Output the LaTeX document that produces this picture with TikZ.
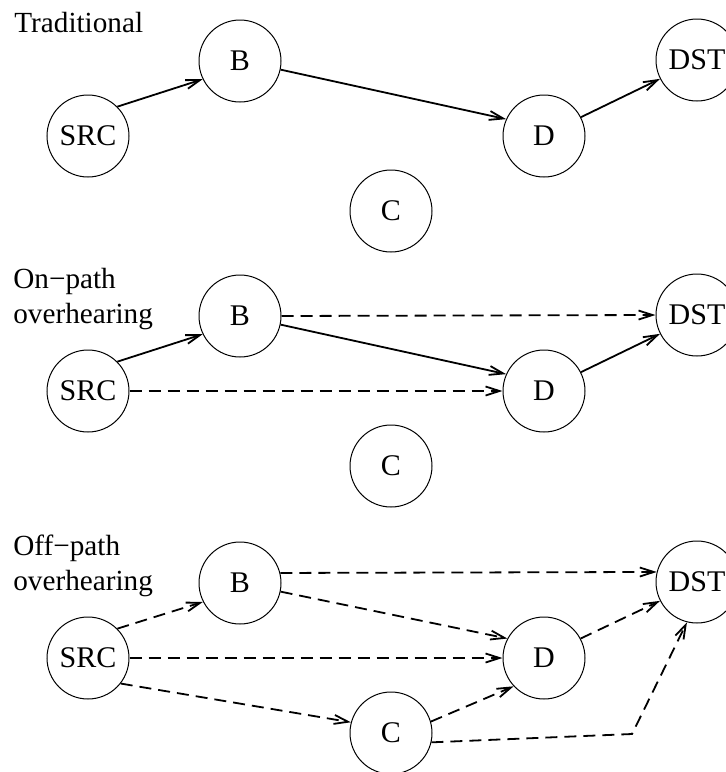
\documentclass[tikz,border=0pt]{standalone}
\usepackage{fontspec}
\setmainfont{Liberation Serif}
\usetikzlibrary{arrows.meta}

\begin{document}
\begin{tikzpicture}[x=0.5pt, y=-0.5pt,
  host/.style={draw, circle, line width=0.5pt, minimum size=41pt, inner sep=0pt, font=\fontsize{15}{18}\selectfont},
  title/.style={inner sep=0pt, align=left, font=\fontsize{14.6}{17.5}\selectfont},
  link/.style={line width=0.9pt, -{Straight Barb[length=7pt,width=4.5pt]}},
  hear/.style={link, dash pattern=on 6pt off 3.5pt}]
\useasboundingbox (0,0) rectangle (725,772);
\node[title, anchor=base west] (lab1) at (14,32) {Traditional};
\node[title, anchor=north west] (lab2) at (13,268) {On\textminus path\\overhearing};
\node[title, anchor=north west] (lab3) at (13,535) {Off\textminus path\\overhearing};
\foreach \p/\dy in {1/0, 2/255, 3/522} {
	\node[host] (src\p) at (88,136+\dy) {SRC};
	\node[host] (b\p) at (240,61+\dy) {B};
	\node[host] (c\p) at (391,211+\dy) {C};
	\node[host] (d\p) at (544,136+\dy) {D};
	\node[host] (dst\p) at (697,60+\dy) {DST};
}
\foreach \p in {1,2} {
	\draw[link] (src\p.45) -- (b\p.206);
	\draw[link] (b\p.348) -- (d\p.156);
	\draw[link] (d\p.27) -- (dst\p.207);
}
\draw[hear] (b2.east) -- (dst2.west);
\draw[hear] (src2.east) -- (d2.west);
\coordinate (bend) at (632,734);
\draw[hear] (src3.45) -- (b3.207);
\draw[hear] (b3.14) -- (dst3.166);
\draw[hear] (b3.348) -- (d3.152);
\draw[hear] (src3.east) -- (d3.west);
\draw[hear] (src3.322) -- (c3.165);
\draw[hear] (c3.16) -- (d3.223);
\draw[hear] (d3.28) -- (dst3.207);
\draw[hear] (c3.347) -- (bend) -- (dst3.256);
\end{tikzpicture}
\end{document}
